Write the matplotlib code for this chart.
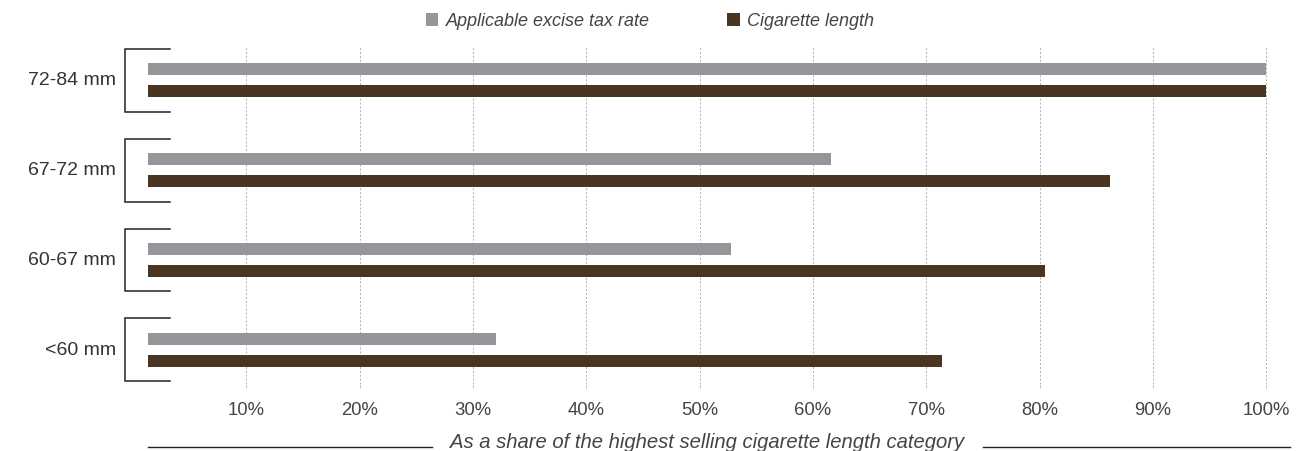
import matplotlib
matplotlib.use("Agg")
import matplotlib.pyplot as plt
from matplotlib.lines import Line2D
import numpy as np

plt.rcParams['font.family'] = ['Liberation Sans', 'DejaVu Sans']

categories = ["72-84 mm", "67-72 mm", "60-67 mm", "<60 mm"]
tax_rate = [100.0, 61.6, 52.8, 32.0]
cig_length = [100.0, 86.2, 80.5, 71.4]
series_names = ["Applicable excise tax rate", "Cigarette length"]
tick_values = [10, 20, 30, 40, 50, 60, 70, 80, 90, 100]
tick_labels = [f"{v}%" for v in tick_values]
xlabel = "As a share of the highest selling cigarette length category"

GREY = "#96969a"
BROWN = "#4a3422"
BAR_BASE = 1.3

W, H = 1303, 452
fig = plt.figure(figsize=(W / 100, H / 100), dpi=100)
ax = fig.add_axes([120 / W, 1 - 385 / H, 1170 / W, 337 / H])

y = np.arange(len(categories))
off = 0.122
bh = 0.135
ax.barh(y - off, np.array(tax_rate) - BAR_BASE, left=BAR_BASE, height=bh,
        color=GREY, label=series_names[0], zorder=3)
ax.barh(y + off, np.array(cig_length) - BAR_BASE, left=BAR_BASE, height=bh,
        color=BROWN, label=series_names[1], zorder=3)

ax.set_xlim(-1.15, 102.1)
ax.set_ylim(3.378, -0.367)

ax.set_xticks(tick_values)
ax.set_xticklabels(tick_labels, fontsize=13.3, color="#444444")
ax.tick_params(axis='x', length=3, width=0.6, color="#bbbbbb", pad=9)
ax.set_yticks([])
for s in ax.spines.values():
    s.set_visible(False)
ax.grid(axis='x', linestyle=(0, (2, 2)), color="#b0b0b0", linewidth=0.7, zorder=0)

# brackets and category labels
for k, cat in enumerate(categories):
    top, bot = k - 0.35, k + 0.35
    ax.plot([3.27, -0.7, -0.7, 3.27], [top, top, bot, bot], color="#222222",
            linewidth=1.1, clip_on=False, zorder=4, solid_joinstyle='miter')
    ax.text(-1.5, k - 0.01, cat, ha='right', va='center', fontsize=14,
            color="#333333", transform=ax.transData, clip_on=False)

# x-axis caption with side lines
fig.text(707 / W, 1 - 443 / H, xlabel, ha='center', va='center',
         fontsize=14.6, style='italic', color="#444444")
fig.add_artist(Line2D([148 / W, 432 / W], [1 - 448 / H] * 2, color="#222222",
                      linewidth=1.0, transform=fig.transFigure))
fig.add_artist(Line2D([983 / W, 1290 / W], [1 - 448 / H] * 2, color="#222222",
                      linewidth=1.0, transform=fig.transFigure))

# legend
leg = fig.legend(loc='center', bbox_to_anchor=(650 / W, 1 - 22 / H), ncol=2,
                 frameon=False, handlelength=0.7, handleheight=0.7,
                 handletextpad=0.4, columnspacing=4.3,
                 prop={'size': 13, 'style': 'italic'})
for t in leg.get_texts():
    t.set_color("#444444")

fig.savefig("out.png", dpi=100)
